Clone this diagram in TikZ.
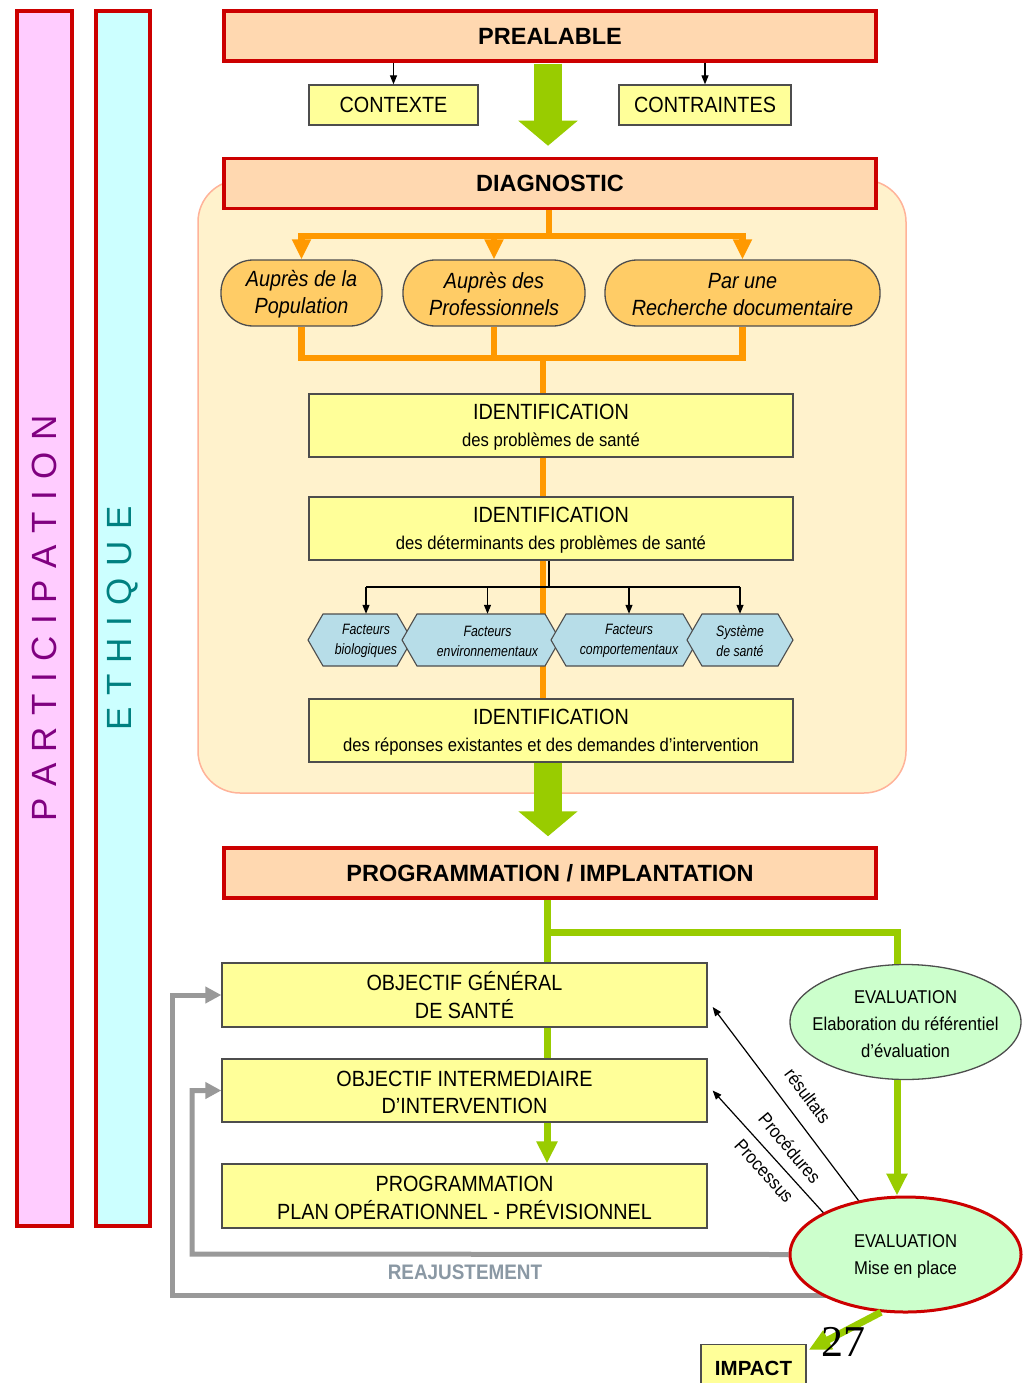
\documentclass[tikz,border=0pt]{standalone}
\usepackage{fontspec}
\setmainfont{Liberation Sans}
\newfontfamily\nar[FakeStretch=0.9]{Liberation Sans}
\newfontfamily\narr[FakeStretch=0.82]{Liberation Sans}
\newfontfamily\tms{Liberation Serif}
\usetikzlibrary{arrows.meta,shapes.geometric,calc}
\pgfdeclarelayer{bg}
\pgfsetlayers{bg,main}
\definecolor{redc}{HTML}{CC0000}
\definecolor{peach}{HTML}{FFD8B0}
\definecolor{yel}{HTML}{FFFF99}
\definecolor{orng}{HTML}{FF9900}
\definecolor{pillc}{HTML}{FFCC66}
\definecolor{diagbg}{HTML}{FFF2CC}
\definecolor{diagbd}{HTML}{FFB399}
\definecolor{hexc}{HTML}{B7DDE8}
\definecolor{grn}{HTML}{99CC00}
\definecolor{mint}{HTML}{CCFFCC}
\definecolor{gry}{HTML}{999999}
\definecolor{pinkc}{HTML}{FFCCFF}
\definecolor{cyanc}{HTML}{CCFFFF}
\definecolor{purp}{HTML}{800080}
\definecolor{tealc}{HTML}{008080}
\definecolor{reaj}{HTML}{8A98A4}
\definecolor{dk}{HTML}{4D4D4D}
\newcommand\lsp{\kern11.5pt}
\begin{document}
\begin{tikzpicture}[x=1pt,y=-1pt,
 redbox/.style={draw=redc, line width=3.5pt, fill=peach, minimum width=652pt, minimum height=50pt, inner sep=0pt, font=\fontsize{23.5}{28}\selectfont\bfseries},
 ybox/.style={draw=dk, line width=1.3pt, fill=yel, inner sep=0pt, align=center, font=\nar\fontsize{22}{27}\selectfont},
 pill/.style={draw=dk, line width=1.3pt, fill=pillc, rounded corners=32pt, minimum height=66pt, inner sep=0pt, align=center, font=\nar\itshape\fontsize{22}{27}\selectfont},
 hexlbl/.style={inner sep=0pt, minimum height=52pt, align=center, font=\narr\itshape\fontsize{15}{20}\selectfont},
 hexshape/.style={draw=dk, line width=1.1pt, fill=hexc},
 ell/.style={ellipse, draw=dk, line width=1.3pt, fill=mint, inner sep=0pt, minimum width=231pt, minimum height=115pt},
 ellt/.style={inner sep=0pt, align=center, font=\nar\fontsize{18.5}{27}\selectfont},
 bar/.style={draw=redc, line width=4pt, inner sep=0pt, rotate=90, minimum width=1215pt, font=\fontsize{35}{40}\selectfont},
 oline/.style={draw=orng, line width=6.5pt},
 otip/.style={-{Triangle[width=18pt,length=20pt]}},
 gline/.style={draw=grn, line width=7pt},
 gtip/.style={-{Triangle[width=20pt,length=22pt]}},
 bigarrow/.style={draw=grn, line width=28pt, -{Triangle[width=58pt,length=25pt]}},
 greyline/.style={draw=gry, line width=5pt},
 greytip/.style={-{Triangle[width=16pt,length=16pt]}},
 blk/.style={draw=black, line width=1.2pt},
 blktip/.style={-{Triangle[width=7pt,length=9pt]}},
 lbl/.style={font=\nar\fontsize{18.5}{22}\selectfont, inner sep=0pt},
]
\useasboundingbox (0,0) rectangle (1023,1383);
\begin{pgfonlayer}{bg}
\fill[white] (0,0) rectangle (1023,1383);
\end{pgfonlayer}

% side bars
\node[bar, fill=pinkc, text=purp, minimum height=55pt] (part) at (44.5,618.5) {P\lsp A\lsp R\lsp T\lsp I\lsp C\lsp I\lsp P\lsp A\lsp T\lsp I\lsp O\lsp N};
\node[bar, fill=cyanc, text=tealc, minimum height=54pt] (eth) at (123,618.5) {E\lsp T\lsp H\lsp I\lsp Q\lsp U\lsp E};

% diagnostic background
\draw[draw=diagbd, fill=diagbg, line width=1.5pt, rounded corners=42pt] (198,180) rectangle (906,793);

% main boxes
\node[redbox] (preal) at (550,36) {PREALABLE};
\node[ybox, minimum width=169pt, minimum height=40pt] (ctx) at (393.5,105) {CONTEXTE};
\node[ybox, minimum width=172pt, minimum height=40pt] (ctr) at (705,105) {CONTRAINTES};
\node[redbox] (diag) at (550,183.5) {DIAGNOSTIC};

\node[pill, minimum width=161pt] (p1) at (301.5,293) {\strut Auprès de la\\Population};
\node[pill, minimum width=182pt] (p2) at (494,293) {\strut Auprès des\\Professionnels};
\node[pill, minimum width=275pt] (p3) at (742.5,293) {\strut Par une\\Recherche documentaire};

\node[ybox, minimum width=484pt, minimum height=63pt] (id1) at (551,425.5) {\strut IDENTIFICATION\\{\fontsize{18.5}{27}\selectfont des problèmes de santé}};
\node[ybox, minimum width=484pt, minimum height=63pt] (id2) at (551,528.5) {\strut IDENTIFICATION\\{\fontsize{18.5}{27}\selectfont des déterminants des problèmes de santé}};
\node[ybox, minimum width=484pt, minimum height=63pt] (id3) at (551,730.5) {\strut IDENTIFICATION\\{\fontsize{18.5}{27}\selectfont des réponses existantes et des demandes d’intervention}};

\node[redbox] (impl) at (550,873) {PROGRAMMATION / IMPLANTATION};

\node[ybox, minimum width=485pt, minimum height=64pt] (o1) at (464.5,995) {\strut OBJECTIF GÉNÉRAL\\DE SANTÉ};
\node[ybox, minimum width=485pt, minimum height=63pt] (o2) at (464.5,1090.5) {\strut OBJECTIF INTERMEDIAIRE\\D’INTERVENTION};
\node[ybox, minimum width=485pt, minimum height=64pt] (o3) at (464.5,1196) {\strut PROGRAMMATION\\PLAN OPÉRATIONNEL - PRÉVISIONNEL};

\node[ell] (e1) at (905.5,1022) {};
\node[ellt] (e1t) at (905.5,1024) {EVALUATION\\Elaboration du référentiel\\d’évaluation};
\node[ell, draw=redc, line width=3pt] (e2) at (905.5,1254.5) {};
\node[ellt] (e2t) at (905.5,1256) {EVALUATION\\Mise en place};

\node[ybox, font=\bfseries\fontsize{20.5}{24}\selectfont, minimum width=105pt, minimum height=48pt, anchor=north] (imp) at (753.5,1344) {IMPACT};

% small black arrows from PREALABLE
\draw[blk, blktip] (ctx.north |- preal.south) -- (ctx.north);
\draw[blk, blktip] (ctr.north |- preal.south) -- (ctr.north);

% big green arrows
\draw[bigarrow] ($(preal.south)+(-2,1)$) -- ($(diag.north)+(-2,-11)$);
\draw[bigarrow] ($(id3.south)+(-3,0)$) -- ($(impl.north)+(-2,-10)$);

% orange tree
\coordinate (oj1) at (549,236);
\coordinate (oj2) at (543,358);
\draw[oline] (diag.south -| oj1) -- (oj1);
\draw[oline, {Triangle[width=18pt,length=20pt]}-{Triangle[width=18pt,length=20pt]}] (p1.north) -- (p1.north |- oj1) -- (p3.north |- oj1) -- (p3.north);
\draw[oline, otip] (p2.north |- oj1) -- (p2.north);
\draw[oline] (p1.south) -- (p1.south |- oj2) -- (p3.south |- oj2) -- (p3.south);
\draw[oline] (p2.south) -- (p2.south |- oj2);
\draw[oline] (oj2) -- (id1.north -| oj2);
\draw[oline] (id1.south -| oj2) -- (id2.north -| oj2);
\draw[oline] (id2.south -| oj2) -- (id3.north -| oj2);

% hexagons
\draw[hexshape] (308,640) -- (323,614) -- (397,614) -- (412,640) -- (397,666) -- (323,666) -- cycle;
\draw[hexshape] (402,640) -- (417,614) -- (545,614) -- (560,640) -- (545,666) -- (417,666) -- cycle;
\draw[hexshape] (551,640) -- (566,614) -- (683,614) -- (698,640) -- (683,666) -- (566,666) -- cycle;
\draw[hexshape] (687,640) -- (702,614) -- (778,614) -- (793,640) -- (778,666) -- (702,666) -- cycle;
\node[hexlbl] (h1) at (366,641) {Facteurs\\biologiques};
\node[hexlbl] (h2) at (487.5,641) {Facteurs\\environnementaux};
\node[hexlbl] (h3) at (629,641) {Facteurs\\comportementaux};
\node[hexlbl] (h4) at (740,641) {Système\\de santé};

% black tree
\coordinate (bj) at (549,587);
\draw[blk] (id2.south -| bj) -- (bj);
\draw[blk] (h1.north |- bj) -- (h4.north |- bj);
\foreach \h in {h1,h2,h3,h4} \draw[blk, blktip] (\h.north |- bj) -- ($(\h.north)+(0,-1)$);

% green program lines
\coordinate (gj) at (547,932);
\coordinate (gk) at (897,932);
\draw[gline] (impl.south -| gj) -- (o1.north -| gj);
\draw[gline] (gj) -- (gk) -- (gk |- e1.north);
\draw[gline] (o1.south -| gj) -- (o2.north -| gj);
\draw[gline, gtip] (o2.south -| gj) -- (o3.north -| gj);
\draw[gline, gtip] (gk |- e1.south) -- (gk |- e2.north);

% black evaluation arrows
\draw[blk, blktip] (e2.131) -- ($(o1.east)+(5,12)$);
\draw[blk, blktip] (e2.153) -- ($(o2.east)+(5,0)$);
\node[lbl, rotate=-53] (lres) at (808,1096) {résultats};
\node[lbl, rotate=-50] (lproc) at (790,1148) {Procédures};
\node[lbl, rotate=-48] (lpcs) at (764,1171) {Processus};

% grey readjustment loops
\begin{pgfonlayer}{bg}
\coordinate (r1) at (192,1254);
\coordinate (r2) at (172,1295);
\draw[greyline, greytip] (e2.west) -- (r1) -- (r1 |- o2.west) -- (o2.west);
\draw[greyline, greytip] (e2.center |- r2) -- (r2) -- (r2 |- o1.west) -- (o1.west);
\end{pgfonlayer}
\node[font=\nar\bfseries\fontsize{21}{24}\selectfont, text=reaj, inner sep=0pt] (reaj) at (465,1272) {REAJUSTEMENT};

% impact arrow
\draw[gline, gtip] (e2.247) -- ($(imp.north east)+(2,6)$);
\node[font=\tms\fontsize{44}{44}\selectfont, inner sep=0pt] (pg) at (843,1342) {27};
\end{tikzpicture}
\end{document}
